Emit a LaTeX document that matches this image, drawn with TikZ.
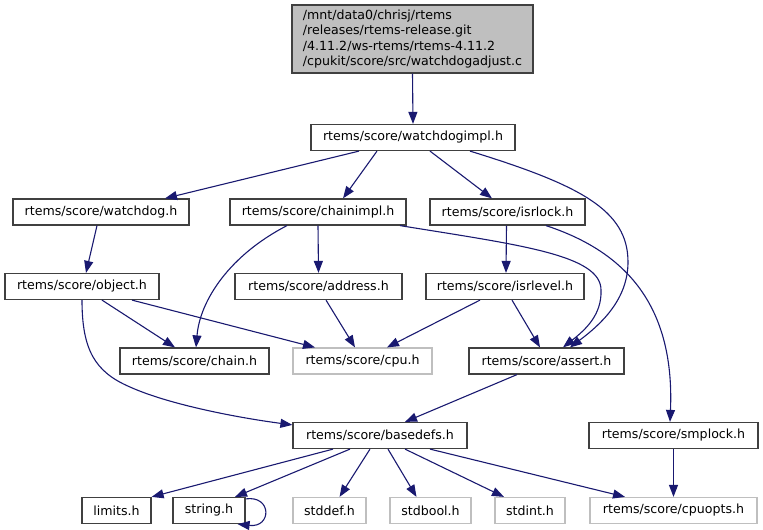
\documentclass[tikz,border=0pt]{standalone}
\usepackage{fontspec}
\setmainfont{DejaVu Sans}
\usetikzlibrary{arrows.meta,calc}
\definecolor{edgec}{HTML}{191970}
\definecolor{bord}{HTML}{404040}
\definecolor{lgray}{HTML}{BFBFBF}
\begin{document}
\begin{tikzpicture}[x=1pt,y=-1pt,
  font=\fontsize{12.6}{15.5}\selectfont,
  box/.style={draw=bord, line width=1.2pt, minimum height=26pt, inner sep=0pt, fill=white},
  ext/.style={box, draw=lgray},
  edge/.style={draw=edgec, line width=1.1pt, -{Triangle[length=12pt,width=9pt]}}]
\useasboundingbox (0,0) rectangle (763,530);
% nodes
\node[box, fill=lgray, minimum width=241pt, minimum height=68pt, align=left, inner xsep=11pt] (top) at (412.5,39)
  {/mnt/data0/chrisj/rtems\\/releases/rtems-release.git\\/4.11.2/ws-rtems/rtems-4.11.2\\/cpukit/score/src/watchdogadjust.c};
\node[box, minimum width=204pt] (wi) at (413,137.5) {rtems/score/watchdogimpl.h};
\node[box, minimum width=176pt] (wd) at (101,212) {rtems/score/watchdog.h};
\node[box, minimum width=176pt] (ci) at (318,212) {rtems/score/chainimpl.h};
\node[box, minimum width=155pt] (il) at (507.5,212) {rtems/score/isrlock.h};
\node[box, minimum width=154pt] (ob) at (82,286.5) {rtems/score/object.h};
\node[box, minimum width=167pt] (ad) at (318.5,286.5) {rtems/score/address.h};
\node[box, minimum width=158pt] (iv) at (505,286.5) {rtems/score/isrlevel.h};
\node[box, minimum width=149pt] (ch) at (194.5,361) {rtems/score/chain.h};
\node[ext, minimum width=139pt] (cpu) at (362.5,361) {rtems/score/cpu.h};
\node[box, minimum width=155pt] (as) at (546.5,361) {rtems/score/assert.h};
\node[box, minimum width=174pt] (bd) at (380,435.5) {rtems/score/basedefs.h};
\node[box, minimum width=169pt] (sm) at (673.5,435.5) {rtems/score/smplock.h};
\node[box, minimum width=69pt] (lim) at (116.5,510.5) {limits.h};
\node[box, minimum width=72pt] (str) at (209,510.5) {string.h};
\node[ext, minimum width=73pt] (sdf) at (329.5,510.5) {stddef.h};
\node[ext, minimum width=81pt] (sbl) at (430.5,510.5) {stdbool.h};
\node[ext, minimum width=70pt] (sin) at (530,510.5) {stdint.h};
\node[ext, minimum width=167pt] (co) at (673.5,510.5) {rtems/score/cpuopts.h};
% edges
\draw[edge] (top.south) -- (wi.north);
\draw[edge] ([xshift=-54pt]wi.south) -- ([xshift=64pt]wd.north);
\draw[edge] ([xshift=-36pt]wi.south) -- ([xshift=25pt]ci.north);
\draw[edge] ([xshift=17pt]wi.south) -- ([xshift=-15.5pt]il.north);
\draw[edge] ([xshift=57pt]wi.south) .. controls (580,185) and (628,210) .. (628,262)
  .. controls (628,300) and (600,325) .. ([xshift=23.5pt]as.north);
\draw[edge] ([xshift=-31pt]ci.south) .. controls (230,255) and (200,300) .. ([xshift=1.5pt]ch.north);
\draw[edge] (ci.south) -- (ad.north);
\draw[edge] ([xshift=82pt]ci.south) .. controls (520,245) and (601,255) .. (601,290)
  .. controls (602,315) and (585,330) .. ([xshift=16.5pt]as.north);
\draw[edge] ([xshift=-1pt]il.south) -- ([xshift=1pt]iv.north);
\draw[edge] ([xshift=38.5pt]il.south) .. controls (620,250) and (675,300) .. ([xshift=-3.5pt]sm.north);
\draw[edge] ([xshift=-4pt]wd.south) -- ([xshift=4pt]ob.north);
\draw[edge] ([xshift=20pt]ob.south) -- ([xshift=-19.5pt]ch.north);
\draw[edge] ([xshift=50pt]ob.south) -- ([xshift=-47.5pt]cpu.north);
\draw[edge] (ob.south) .. controls (82,350) and (95,372) .. (130,387)
  .. controls (170,405) and (240,418) .. ([yshift=-3pt]bd.north west);
\draw[edge] ([xshift=7.5pt]ad.south) -- ([xshift=-7.5pt]cpu.north);
\draw[edge] ([xshift=-25pt]iv.south) -- ([xshift=24.5pt]cpu.north);
\draw[edge] ([xshift=7pt]iv.south) -- ([xshift=-6.5pt]as.north);
\draw[edge] ([xshift=-29.5pt]as.south) -- ([xshift=25pt]bd.north);
\draw[edge] ([xshift=-47pt]bd.south) -- (lim.north east);
\draw[edge] ([xshift=-30pt]bd.south) -- ([xshift=26pt]str.north);
\draw[edge] ([xshift=-10pt]bd.south) -- ([xshift=10pt]sdf.north);
\draw[edge] ([xshift=8pt]bd.south) -- ([xshift=-14pt]sbl.north);
\draw[edge] ([xshift=25pt]bd.south) -- ([xshift=-26pt]sin.north);
\draw[edge] ([xshift=50pt]bd.south) -- ([xshift=-48.5pt]co.north);
\draw[edge] (sm.south) -- (co.north);
\draw[edge] ([yshift=-2pt]str.north east) .. controls (272,495) and (272,528) .. ([xshift=-8pt]str.south east);
\end{tikzpicture}
\end{document}
